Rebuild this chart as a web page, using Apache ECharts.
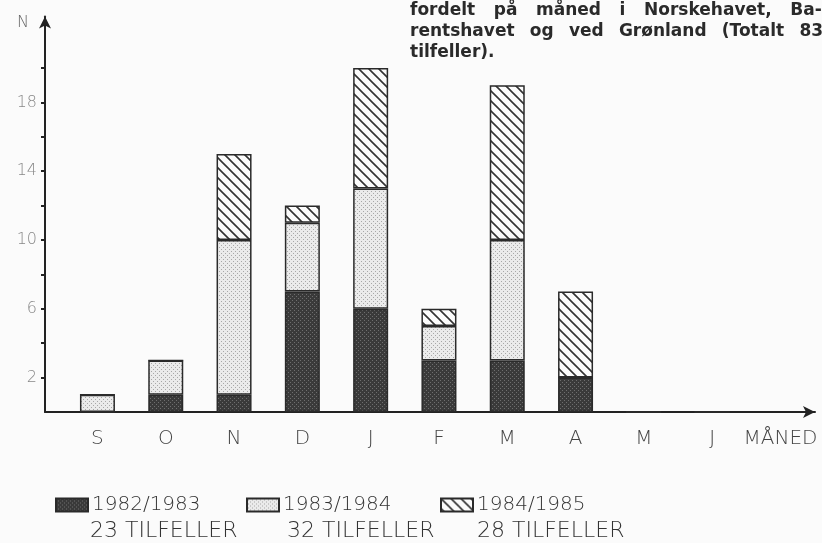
<!DOCTYPE html>
<html>
<head>
<meta charset="utf-8">
<script src="https://cdn.jsdelivr.net/npm/echarts@6/dist/echarts.min.js"></script>
<style>html,body{margin:0;padding:0;background:#fbfbfb;}#chart{width:822px;height:543px;}</style>
</head>
<body>
<div id="chart"></div>
<script>
// ---- data ----
const months = ['S', 'O', 'N', 'D', 'J', 'F', 'M', 'A', 'M', 'J'];
const axisEndLabel = 'MÅNED';
const seasonNames = ['1982/1983', '1983/1984', '1984/1985'];
const season8283 = [0, 1, 1, 7, 6, 3, 3, 2, 0, 0];
const season8384 = [1, 2, 9, 4, 7, 2, 7, 0, 0, 0];
const season8485 = [0, 0, 5, 1, 7, 1, 9, 5, 0, 0];
const yTickValues = [2, 4, 6, 8, 10, 12, 14, 16, 18, 20];
const yLabelValues = [2, 6, 10, 14, 18];
const headerLines = [
  'fordelt på måned i Norskehavet, Ba-',
  'rentshavet og ved Grønland (Totalt 83',
  'tilfeller).'
];

// ---- patterns ----
function pattern(kind) {
  const c = document.createElement('canvas');
  const ctx = c.getContext('2d');
  if (kind === 'dark') {
    c.width = 4; c.height = 4;
    ctx.fillStyle = '#3a3a3a'; ctx.fillRect(0, 0, 4, 4);
    ctx.fillStyle = '#6e6e6e'; ctx.fillRect(0, 0, 1, 1); ctx.fillRect(2, 2, 1, 1);
  } else if (kind === 'light') {
    c.width = 4; c.height = 4;
    ctx.fillStyle = '#ebebeb'; ctx.fillRect(0, 0, 4, 4);
    ctx.fillStyle = '#a8a8a8'; ctx.fillRect(1, 1, 1, 1); ctx.fillRect(3, 3, 1, 1);
  } else {
    c.width = 10; c.height = 10;
    ctx.fillStyle = '#fbfbfb'; ctx.fillRect(0, 0, 10, 10);
    ctx.strokeStyle = '#333'; ctx.lineWidth = 1.6;
    ctx.beginPath();
    ctx.moveTo(-2, -2); ctx.lineTo(12, 12);
    ctx.moveTo(-12, -2); ctx.lineTo(2, 12);
    ctx.moveTo(8, -2); ctx.lineTo(22, 12);
    ctx.stroke();
  }
  return { image: c, repeat: 'repeat' };
}
const fills = [pattern('dark'), pattern('light'), pattern('hatch')];
const seriesData = [season8283, season8384, season8485];
const sum = a => a.reduce((s, v) => s + v, 0);
const gaps = ['\u00a0\u00a0\u2009\u2009', '\u00a0\u00a0\u2009', ' '];
const headerText = headerLines.map((l, i) => l.split(' ').join(gaps[i])).join('\n');

const baseline = 412, unit = 17.2, yMax = 23;
const gridTop = baseline - yMax * unit;
const gridBottom = 543 - baseline;
const txtFont = '"DejaVu Sans", sans-serif';

const chart = echarts.init(document.getElementById('chart'), null, { renderer: 'canvas' });
chart.setOption({
  backgroundColor: '#fbfbfb',
  animation: false,
  title: {
    text: headerText,
    left: 410, top: 0, padding: 0,
    textStyle: { fontFamily: '"DejaVu Sans", sans-serif', fontSize: 17, fontWeight: 'bold', color: '#2a2a2a', lineHeight: 21 }
  },
  grid: [
    { left: 63.3, right: 7.4, top: gridTop, bottom: gridBottom },
    { left: 45, right: 7, top: gridTop, bottom: gridBottom }
  ],
  xAxis: [
    {
      gridIndex: 0, type: 'category', data: months.concat([axisEndLabel]),
      axisLine: { show: false }, axisTick: { show: false },
      axisLabel: { interval: 0, margin: 17, fontFamily: txtFont, fontWeight: 200, fontSize: 20, color: '#444' }
    },
    {
      gridIndex: 1, type: 'value', min: 0, max: 1,
      axisLine: { show: true, symbol: ['none', 'arrow'], symbolSize: [9, 12], lineStyle: { color: '#222', width: 2 } },
      axisTick: { show: false }, axisLabel: { show: false }, splitLine: { show: false }
    }
  ],
  yAxis: [
    { gridIndex: 0, type: 'value', min: 0, max: yMax, show: false },
    {
      gridIndex: 1, type: 'value', min: 0, max: yMax,
      name: 'N', nameLocation: 'end', nameGap: -6,
      nameTextStyle: { align: 'right', verticalAlign: 'middle', padding: [0, 16, 0, 0], fontFamily: txtFont, fontWeight: 200, fontSize: 16, color: '#666' },
      axisLine: { show: true, symbol: ['none', 'arrow'], symbolSize: [9, 12], lineStyle: { color: '#222', width: 2 } },
      axisTick: { show: true, customValues: yTickValues, length: 4, lineStyle: { color: '#222', width: 2 } },
      axisLabel: { customValues: yLabelValues, margin: 8, fontFamily: txtFont, fontWeight: 200, fontSize: 16, color: '#888' },
      splitLine: { show: false }
    }
  ],
  legend: seasonNames.map((n, i) => ({
    data: [n], left: [50, 241, 435][i], top: 490,
    icon: 'rect', itemWidth: 32, itemHeight: 13, itemGap: 0,
    textStyle: { fontFamily: txtFont, fontWeight: 200, fontSize: 20, color: '#333', padding: [0, 0, 0, -1] }
  })),
  graphic: seriesData.map((d, i) => ({
    type: 'text', left: [90, 287, 477][i], top: 520,
    style: { text: sum(d) + ' TILFELLER', font: '200 22px ' + txtFont, fill: '#333' }
  })),
  series: seriesData.map((d, i) => ({
    name: seasonNames[i], type: 'bar', stack: 'total',
    xAxisIndex: 0, yAxisIndex: 0, barWidth: 35,
    data: d,
    itemStyle: { color: fills[i], borderColor: '#2a2a2a', borderWidth: 1.5 }
  }))
});
</script>
</body>
</html>
